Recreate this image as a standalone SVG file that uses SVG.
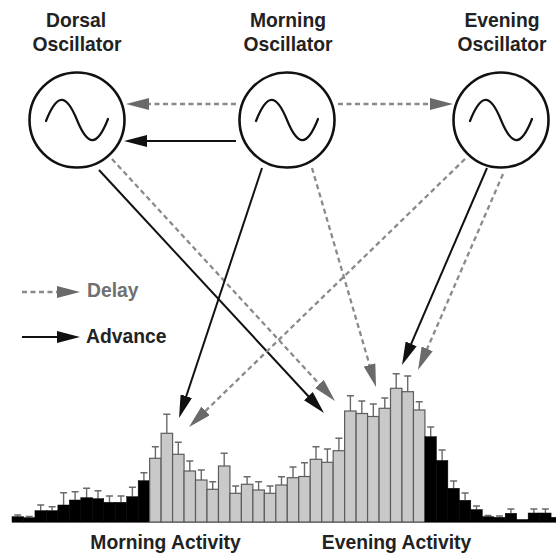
<svg xmlns="http://www.w3.org/2000/svg" width="556" height="558" viewBox="0 0 556 558">
<style>
  text { font-family: "Liberation Sans", Arial, sans-serif; font-weight: bold; font-size: 19.3px; fill: #222; }
  .osc { fill: none; stroke: #111; stroke-width: 2.6; }
  .sine { fill: none; stroke: #111; stroke-width: 2.2; stroke-linecap: round; }
  .solid { fill: none; stroke: #111; stroke-width: 2; }
  .dash { fill: none; stroke: #8a8a8a; stroke-width: 2.3; stroke-dasharray: 5 3.5; }
  .gbar { fill: #c9c9c9; stroke: #5c5c5c; stroke-width: 1.2; }
  .bbar { fill: #000; stroke: #000; stroke-width: 0.5; }
  .err { fill: none; stroke: #6a6a6a; stroke-width: 1.4; }
</style>
<defs>
  <marker id="headB" markerUnits="userSpaceOnUse" markerWidth="24" markerHeight="12" refX="13" refY="6" orient="auto">
    <path d="M0,0 L23,6 L0,12 z" fill="#111"/>
  </marker>
  <marker id="headG" markerUnits="userSpaceOnUse" markerWidth="24" markerHeight="12" refX="13" refY="6" orient="auto">
    <path d="M0,0 L23,6 L0,12 z" fill="#6a6a6a"/>
  </marker>
  <path id="sinewave" d="M-31,1 C-20,-27 -11,-27 0,0 C11,27 20,27 31,-1"/>
</defs>

<g id="histogram">
  <line x1="12" y1="522.5" x2="556" y2="522.5" stroke="#8a8a8a" stroke-width="1"/>
  <g id="error-bars" class="err">
    <path d="M17.7,516.7V515M14.2,515H21.2"/>
    <path d="M29.2,517.7V516.5M25.7,516.5H32.7"/>
    <path d="M40.7,510.7V505M37.2,505H44.2"/>
    <path d="M52.1,510.7V506.7M48.6,506.7H55.6"/>
    <path d="M63.6,505V492.7M60.1,492.7H67.1"/>
    <path d="M75.1,500V491.7M71.6,491.7H78.6"/>
    <path d="M86.6,497.7V488.3M83.1,488.3H90.1"/>
    <path d="M98,498.7V490.7M94.5,490.7H101.5"/>
    <path d="M109.5,502.3V496M106,496H113"/>
    <path d="M121,502.3V496M117.5,496H124.5"/>
    <path d="M132.4,496.7V487.3M128.9,487.3H135.9"/>
    <path d="M143.9,480.7V472.7M140.4,472.7H147.4"/>
    <path d="M155.4,458.3V446.7M151.9,446.7H158.9"/>
    <path d="M166.8,433.3V414.3M163.3,414.3H170.3"/>
    <path d="M178.3,454.3V442.3M174.8,442.3H181.8"/>
    <path d="M189.8,471V461M186.3,461H193.3"/>
    <path d="M201.3,480V470M197.8,470H204.8"/>
    <path d="M212.7,489.3V481.7M209.2,481.7H216.2"/>
    <path d="M224.2,466V453.3M220.7,453.3H227.7"/>
    <path d="M235.7,493.3V486M232.2,486H239.2"/>
    <path d="M247.1,484.3V476.7M243.6,476.7H250.6"/>
    <path d="M258.6,490V481.7M255.1,481.7H262.1"/>
    <path d="M270.1,493.3V486M266.6,486H273.6"/>
    <path d="M281.5,485V476.7M278,476.7H285"/>
    <path d="M293,477.7V467M289.5,467H296.5"/>
    <path d="M304.5,476.5V462.7M301,462.7H308"/>
    <path d="M316,459.3V446.7M312.5,446.7H319.5"/>
    <path d="M327.4,462.3V449M323.9,449H330.9"/>
    <path d="M338.9,450.7V438.3M335.4,438.3H342.4"/>
    <path d="M350.4,411V395.7M346.9,395.7H353.9"/>
    <path d="M361.8,413.5V401M358.3,401H365.3"/>
    <path d="M373.3,416.5V404M369.8,404H376.8"/>
    <path d="M384.8,408.3V398M381.3,398H388.3"/>
    <path d="M396.2,388.3V373.7M392.7,373.7H399.7"/>
    <path d="M407.7,391.7V376M404.2,376H411.2"/>
    <path d="M419.2,410V401.7M415.7,401.7H422.7"/>
    <path d="M430.7,436.7V427M427.2,427H434.2"/>
    <path d="M442.1,460.5V450M438.6,450H445.6"/>
    <path d="M453.6,488.3V481M450.1,481H457.1"/>
    <path d="M465.1,500.3V493M461.6,493H468.6"/>
    <path d="M476.5,509.6V506M473,506H480"/>
    <path d="M488,516.7V515.5M484.5,515.5H491.5"/>
    <path d="M499.5,517.3V516M496,516H503"/>
    <path d="M510.9,513.3V509M507.4,509H514.4"/>
    <path d="M533.9,513V509M530.4,509H537.4"/>
    <path d="M545.4,513V509M541.9,509H548.9"/>
  </g>
  <g id="bars-night-am">
    <rect class="bbar" x="12" y="516.7" width="11.47" height="5.3"/>
    <rect class="bbar" x="23.47" y="517.7" width="11.47" height="4.3"/>
    <rect class="bbar" x="34.94" y="510.7" width="11.47" height="11.3"/>
    <rect class="bbar" x="46.41" y="510.7" width="11.47" height="11.3"/>
    <rect class="bbar" x="57.88" y="505" width="11.47" height="17"/>
    <rect class="bbar" x="69.35" y="500" width="11.47" height="22"/>
    <rect class="bbar" x="80.82" y="497.7" width="11.47" height="24.3"/>
    <rect class="bbar" x="92.29" y="498.7" width="11.47" height="23.3"/>
    <rect class="bbar" x="103.76" y="502.3" width="11.47" height="19.7"/>
    <rect class="bbar" x="115.23" y="502.3" width="11.47" height="19.7"/>
    <rect class="bbar" x="126.7" y="496.7" width="11.47" height="25.3"/>
    <rect class="bbar" x="138.17" y="480.7" width="11.47" height="41.3"/>
  </g>
  <g id="bars-day">
    <rect class="gbar" x="149.64" y="458.3" width="11.47" height="63.7"/>
    <rect class="gbar" x="161.11" y="433.3" width="11.47" height="88.7"/>
    <rect class="gbar" x="172.58" y="454.3" width="11.47" height="67.7"/>
    <rect class="gbar" x="184.05" y="471" width="11.47" height="51"/>
    <rect class="gbar" x="195.52" y="480" width="11.47" height="42"/>
    <rect class="gbar" x="206.99" y="489.3" width="11.47" height="32.7"/>
    <rect class="gbar" x="218.46" y="466" width="11.47" height="56"/>
    <rect class="gbar" x="229.93" y="493.3" width="11.47" height="28.7"/>
    <rect class="gbar" x="241.4" y="484.3" width="11.47" height="37.7"/>
    <rect class="gbar" x="252.87" y="490" width="11.47" height="32"/>
    <rect class="gbar" x="264.34" y="493.3" width="11.47" height="28.7"/>
    <rect class="gbar" x="275.81" y="485" width="11.47" height="37"/>
    <rect class="gbar" x="287.28" y="477.7" width="11.47" height="44.3"/>
    <rect class="gbar" x="298.75" y="476.5" width="11.47" height="45.5"/>
    <rect class="gbar" x="310.22" y="459.3" width="11.47" height="62.7"/>
    <rect class="gbar" x="321.69" y="462.3" width="11.47" height="59.7"/>
    <rect class="gbar" x="333.16" y="450.7" width="11.47" height="71.3"/>
    <rect class="gbar" x="344.63" y="411" width="11.47" height="111"/>
    <rect class="gbar" x="356.1" y="413.5" width="11.47" height="108.5"/>
    <rect class="gbar" x="367.57" y="416.5" width="11.47" height="105.5"/>
    <rect class="gbar" x="379.04" y="408.3" width="11.47" height="113.7"/>
    <rect class="gbar" x="390.51" y="388.3" width="11.47" height="133.7"/>
    <rect class="gbar" x="401.98" y="391.7" width="11.47" height="130.3"/>
    <rect class="gbar" x="413.45" y="410" width="11.47" height="112"/>
  </g>
  <g id="bars-night-pm">
    <rect class="bbar" x="424.92" y="436.7" width="11.47" height="85.3"/>
    <rect class="bbar" x="436.39" y="460.5" width="11.47" height="61.5"/>
    <rect class="bbar" x="447.86" y="488.3" width="11.47" height="33.7"/>
    <rect class="bbar" x="459.33" y="500.3" width="11.47" height="21.7"/>
    <rect class="bbar" x="470.8" y="509.6" width="11.47" height="12.4"/>
    <rect class="bbar" x="482.27" y="516.7" width="11.47" height="5.3"/>
    <rect class="bbar" x="493.74" y="517.3" width="11.47" height="4.7"/>
    <rect class="bbar" x="505.21" y="513.3" width="11.47" height="8.7"/>
    <rect class="bbar" x="516.68" y="519.5" width="11.47" height="2.5"/>
    <rect class="bbar" x="528.15" y="513" width="11.47" height="9"/>
    <rect class="bbar" x="539.62" y="513" width="11.47" height="9"/>
    <rect class="bbar" x="551.09" y="517.3" width="11.47" height="4.7"/>
  </g>
  <text x="165.5" y="549" text-anchor="middle">Morning Activity</text>
  <text x="396.5" y="549" text-anchor="middle">Evening Activity</text>
</g>

<g id="dorsal-oscillator">
  <text x="76" y="26.5" text-anchor="middle">Dorsal</text>
  <text x="77" y="50.5" text-anchor="middle">Oscillator</text>
  <circle class="osc" cx="77" cy="120" r="47.5"/>
  <use href="#sinewave" class="sine" transform="translate(77,120)"/>
</g>
<g id="morning-oscillator">
  <text x="288" y="26.5" text-anchor="middle">Morning</text>
  <text x="288" y="50.5" text-anchor="middle">Oscillator</text>
  <circle class="osc" cx="287" cy="120" r="47.5"/>
  <use href="#sinewave" class="sine" transform="translate(287,120)"/>
</g>
<g id="evening-oscillator">
  <text x="502" y="26.5" text-anchor="middle">Evening</text>
  <text x="502" y="50.5" text-anchor="middle">Oscillator</text>
  <circle class="osc" cx="501" cy="120" r="47.5"/>
  <use href="#sinewave" class="sine" transform="translate(501,120)"/>
</g>

<g id="legend">
  <line class="dash" x1="22" y1="292" x2="70" y2="292" marker-end="url(#headG)"/>
  <text x="87" y="297" style="fill:#707070">Delay</text>
  <line class="solid" x1="22" y1="337" x2="70" y2="337" marker-end="url(#headB)"/>
  <text x="86" y="343">Advance</text>
</g>

<g id="connectors">
  <line class="dash" x1="236" y1="104" x2="136" y2="104" marker-end="url(#headG)"/>
  <line class="solid" x1="236" y1="141" x2="134" y2="141" marker-end="url(#headB)"/>
  <line class="dash" x1="338" y1="104" x2="443" y2="104" marker-end="url(#headG)"/>
  <line class="solid" x1="99" y1="170" x2="317.2" y2="405.7" marker-end="url(#headB)"/>
  <line class="dash" x1="112" y1="159" x2="328.2" y2="393.6" marker-end="url(#headG)"/>
  <line class="solid" x1="262" y1="168" x2="182.2" y2="408.5" marker-end="url(#headB)"/>
  <line class="dash" x1="312" y1="168" x2="373.2" y2="377.4" marker-end="url(#headG)"/>
  <line class="dash" x1="465" y1="159" x2="196.2" y2="420" marker-end="url(#headG)"/>
  <line class="solid" x1="487" y1="168" x2="406" y2="355.8" marker-end="url(#headB)"/>
  <line class="dash" x1="503" y1="174" x2="422" y2="360.8" marker-end="url(#headG)"/>
</g>
</svg>
